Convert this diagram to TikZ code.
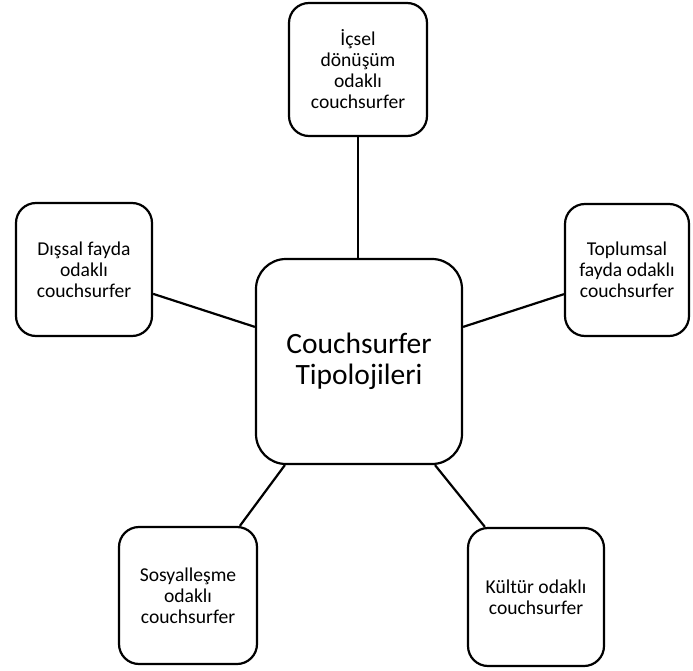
\documentclass[tikz,border=0pt]{standalone}
\usepackage{fontspec}
\setmainfont{Carlito}
\usetikzlibrary{calc}
\tikzset{
  box/.style={draw=black, line width=2.2pt, rounded corners=20pt, fill=white,
    align=center, inner sep=0pt, font=\fontsize{19.6}{21}\selectfont},
  bigbox/.style={box, rounded corners=30pt, font=\fontsize{29.5}{31}\selectfont},
  link/.style={draw=black, line width=2.2pt}
}
\begin{document}
\begin{tikzpicture}[x=1pt,y=-1pt]
\useasboundingbox (0,0) rectangle (693,671);
\node[bigbox, minimum width=206pt, minimum height=205pt] (c) at (359,361.5) {Couchsurfer\\Tipolojileri};
\node[box, minimum width=138pt, minimum height=133pt] (t) at (358,69.5) {İçsel\\dönüşüm\\odaklı\\couchsurfer};
\node[box, minimum width=136pt, minimum height=133pt] (l) at (84,269.5) {Dışsal fayda\\odaklı\\couchsurfer};
\node[box, minimum width=124pt, minimum height=132pt] (r) at (627,270) {Toplumsal\\fayda odaklı\\couchsurfer};
\node[box, minimum width=138pt, minimum height=137pt] (bl) at (188,595.5) {Sosyalleşme\\odaklı\\couchsurfer};
\node[box, minimum width=136pt, minimum height=138pt] (br) at (536,597) {Kültür odaklı\\couchsurfer};
\draw[link] (t.south) -- (t.south |- c.north);
\draw[link] ($(l.north east)!0.68!(l.south east)$) -- ($(c.north west)!0.333!(c.south west)$);
\draw[link] ($(r.north west)!0.68!(r.south west)$) -- ($(c.north east)!0.333!(c.south east)$);
\draw[link] ($(bl.north west)!0.87!(bl.north east)$) -- ($(c.south west)!0.144!(c.south east)$);
\draw[link] ($(br.north west)!0.13!(br.north east)$) -- ($(c.south west)!0.865!(c.south east)$);
\end{tikzpicture}
\end{document}
